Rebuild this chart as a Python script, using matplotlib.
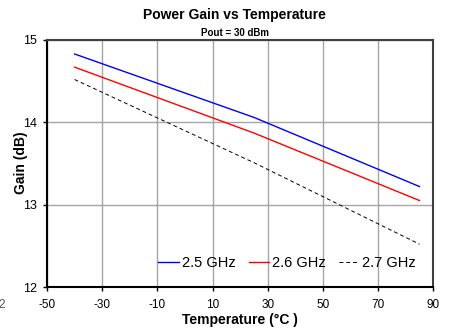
import matplotlib
matplotlib.use('Agg')
import matplotlib.pyplot as plt

plt.rcParams['font.family'] = ['Liberation Sans', 'DejaVu Sans']
plt.rcParams['axes.unicode_minus'] = False

# data
temps = [-40, 25, 85]
gain_25 = [14.83, 14.06, 13.22]
gain_26 = [14.67, 13.87, 13.05]
gain_27 = [14.52, 13.51, 12.52]
xticks = [-50, -30, -10, 10, 30, 50, 70, 90]
yticks = [12, 13, 14, 15]

fig = plt.figure(figsize=(4.49, 3.29), dpi=100)
ax = fig.add_axes([47/449, 1-287/329, (433.3-47)/449, (287-40)/329])

ax.plot(temps, gain_25, color='#0000ff', lw=1.0, label='2.5 GHz')
ax.plot(temps, gain_26, color='#ff0000', lw=1.0, label='2.6 GHz')
ax.plot(temps, gain_27, color='#000000', lw=0.7, dashes=(4, 3), label='2.7 GHz')

ax.set_xlim(-50, 90)
ax.set_ylim(12, 15)
ax.set_xticks(xticks)
ax.set_yticks(yticks)
ax.grid(True, color='#a6a6a6', lw=1.0)
ax.set_axisbelow(True)
ax.tick_params(direction='out', length=3, width=1, labelsize=8.5, color='black', pad=6)
ax.tick_params(axis='y', labelsize=9, pad=4)
for side in ['left', 'bottom']:
    ax.spines[side].set_linewidth(1.5)
for side in ['top', 'right']:
    ax.spines[side].set_linewidth(1.5)
    ax.spines[side].set_color('#404040')

leg = ax.legend(loc='center right', ncol=3, frameon=False, fontsize=10.5,
                handlelength=1.4, handletextpad=0.2, columnspacing=0.9,
                bbox_to_anchor=(0.955, 0.097), borderaxespad=0, borderpad=0)

fig.text(234.5/449, 1-15.5/329, 'Power Gain vs Temperature', ha='center', va='center',
         fontsize=10, fontweight='bold')
fig.text(234.5/449, 1-33/329, 'Pout = 30 dBm', ha='center', va='center',
         fontsize=7, fontweight='bold')
fig.text(21/449, 1-162.5/329, 'Gain (dB)', ha='center', va='center', rotation=90,
         fontsize=10, fontweight='bold')
fig.text(240/449, 1-320/329, 'Temperature (°C )', ha='center', va='center',
         fontsize=10, fontweight='bold')
# clipped stray label at the left edge, as in the reference
fig.text(-2/449, 1-305/329, '2', ha='left', va='center', fontsize=8.5, color='#555555')

fig.savefig('out.png', dpi=100)
